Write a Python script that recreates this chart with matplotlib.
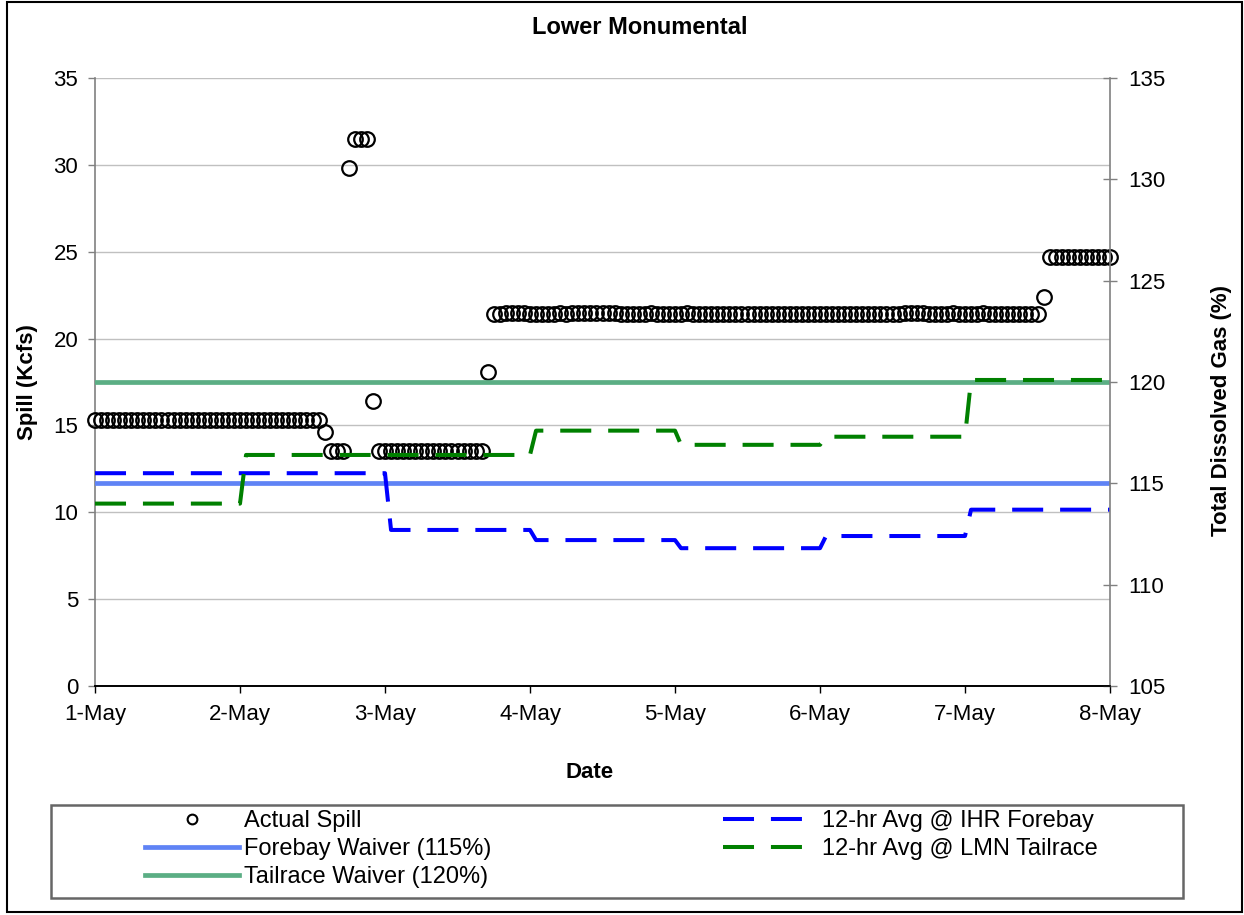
import numpy as np
import matplotlib.pyplot as plt
from matplotlib.lines import Line2D
from matplotlib.patches import Rectangle

plt.rcParams['font.family'] = ['Liberation Sans', 'DejaVu Sans']

date_labels = ['1-May', '2-May', '3-May', '4-May', '5-May', '6-May', '7-May', '8-May']

# hourly actual spill (Kcfs), hour 0 = 1-May 00:00
spill = ([15.3] * 38 + [14.6] + [13.5] * 3 + [29.8] + [31.5] * 3 + [16.4]
         + [13.5] * 18 + [18.1]
         + [21.4, 21.4, 21.5, 21.5, 21.5, 21.5, 21.4, 21.4, 21.4, 21.4, 21.4, 21.5, 21.4]
         + [21.5, 21.5, 21.5, 21.5, 21.5, 21.5, 21.5, 21.5, 21.4, 21.4, 21.4, 21.4, 21.4]
         + [21.5, 21.4, 21.4, 21.4, 21.4, 21.4, 21.5, 21.4, 21.4, 21.4, 21.4, 21.4, 21.4]
         + [21.4] * 13
         + [21.4] * 13
         + [21.4, 21.4, 21.4, 21.5, 21.5, 21.5, 21.5, 21.4, 21.4, 21.4, 21.4, 21.5, 21.4]
         + [21.4, 21.4, 21.4, 21.5, 21.4, 21.4, 21.4, 21.4, 21.4, 21.4, 21.4, 21.4, 21.4]
         + [22.4] + [24.7] * 11)
spill_hours = np.arange(len(spill))

# daily 12-hr average TDG (%), one value per day 1-May .. 7-May
ihr_forebay = [115.5, 115.5, 112.7, 112.2, 111.8, 112.4, 113.7]
lmn_tailrace = [114.0, 116.4, 116.4, 117.6, 116.9, 117.3, 120.1]

forebay_waiver = 115
tailrace_waiver = 120


def step_points(daily):
    # value changes over the first hour of each new day
    xs, ys = [0.0], [daily[0]]
    for d, v in enumerate(daily):
        if d > 0:
            xs.append(d + 1 / 24)
            ys.append(v)
        xs.append(d + 1.0)
        ys.append(v)
    return xs, ys


W, H = 1244, 915
fig = plt.figure(figsize=(W / 100, H / 100), dpi=100)
ax1 = fig.add_axes([95 / W, 1 - 686 / H, (1110 - 95) / W, (686 - 78) / H])
ax2 = ax1.twinx()

ax1.plot(spill_hours / 24, spill, 'o', mfc='none', mec='black', ms=10.5, mew=1.6,
         clip_on=False, zorder=3)

ax2.axhline(forebay_waiver, color='#5F83F5', lw=3.4)
ax2.axhline(tailrace_waiver, color='#5BAE84', lw=3.4)

bx, by = step_points(ihr_forebay)
gx, gy = step_points(lmn_tailrace)
ax2.plot(bx, by, color='#0000FF', lw=2.9, dashes=(7.7, 4.2))
ax2.plot(gx, gy, color='#008000', lw=2.9, dashes=(7.7, 4.2))

ax1.set_xlim(0, 7)
ax1.set_ylim(0, 35)
ax2.set_ylim(105, 135)
ax1.set_yticks(np.arange(0, 36, 5))
ax2.set_yticks(np.arange(105, 136, 5))
ax1.set_xticks(np.arange(8))
ax1.set_xticklabels(date_labels)

ax1.yaxis.grid(True, color='#C0C0C0', lw=1)
ax1.set_axisbelow(True)

for ax in (ax1, ax2):
    ax.spines['top'].set_visible(False)
    ax.spines['bottom'].set_color('black')
    ax.spines['bottom'].set_linewidth(1.2)
ax1.spines['left'].set_color('#808080')
ax1.spines['left'].set_linewidth(1.2)
ax1.spines['right'].set_visible(False)
ax2.spines['left'].set_visible(False)
ax2.spines['right'].set_color('#808080')
ax2.spines['right'].set_linewidth(1.2)

ax1.tick_params(axis='y', direction='out', length=5, width=1, color='#808080',
                labelsize=16, pad=7)
ax1.tick_params(axis='x', direction='out', length=5, width=1, color='black',
                labelsize=16, pad=8)
ax2.tick_params(axis='y', direction='inout', length=10, width=1, color='#808080',
                labelsize=16, pad=8)

fig.text(640 / W, 1 - 27 / H, 'Lower Monumental', ha='center', va='center',
         fontsize=17, fontweight='bold')
fig.text(590 / W, 1 - 772 / H, 'Date', ha='center', va='center',
         fontsize=16, fontweight='bold')
fig.text(28 / W, 1 - 382 / H, 'Spill (Kcfs)', ha='center', va='center',
         rotation=90, fontsize=16, fontweight='bold')
fig.text(1222 / W, 1 - 410 / H, 'Total Dissolved Gas (%)', ha='center', va='center',
         rotation=90, fontsize=16, fontweight='bold')

# outer border and legend box
fig.patches.append(Rectangle((7 / W, 1 - 912 / H), (1242 - 7) / W, (912 - 2) / H,
                             transform=fig.transFigure, fill=False,
                             edgecolor='black', lw=1.5))
fig.patches.append(Rectangle((51 / W, 1 - 898 / H), (1183 - 51) / W, (898 - 805) / H,
                             transform=fig.transFigure, fill=False,
                             edgecolor='#666666', lw=1.8))

handles = [
    Line2D([], [], ls='none', marker='o', mfc='none', mec='black', ms=7, mew=1.5),
    Line2D([], [], color='#5F83F5', lw=3.4),
    Line2D([], [], color='#5BAE84', lw=3.4),
    Line2D([], [], color='#0000FF', lw=2.9, dashes=(7.7, 4.2)),
    Line2D([], [], color='#008000', lw=2.9, dashes=(7.7, 4.2)),
]
labels = ['Actual Spill', 'Forebay Waiver (115%)', 'Tailrace Waiver (120%)',
          '12-hr Avg @ IHR Forebay', '12-hr Avg @ LMN Tailrace']
fig.legend(handles, labels, loc='upper left', bbox_to_anchor=(145 / W, 1 - 810 / H),
           ncol=2, frameon=False, fontsize=17, borderpad=0, borderaxespad=0,
           handlelength=4.0, handletextpad=0.2, columnspacing=9.8, labelspacing=0.25)

fig.savefig('out.png', dpi=100)
